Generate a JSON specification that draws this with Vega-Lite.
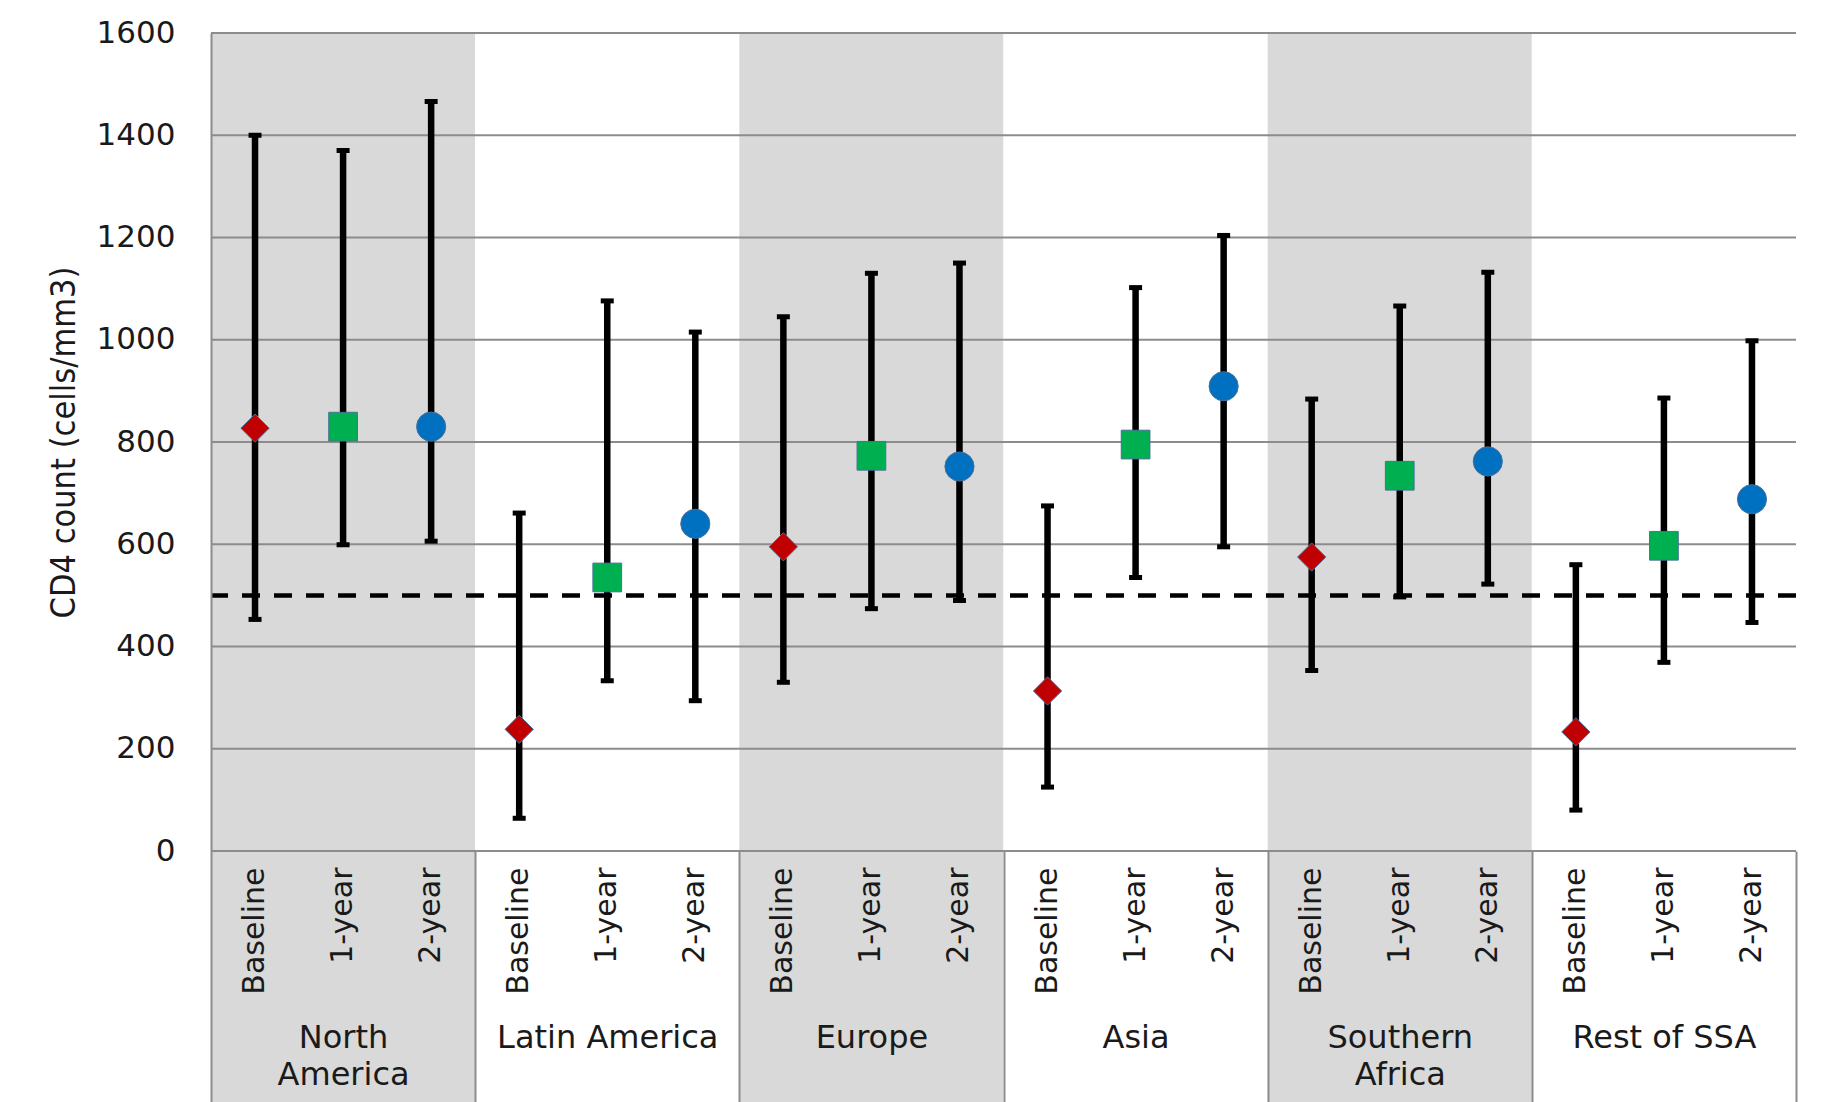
{
  "$schema": "https://vega.github.io/schema/vega-lite/v6.json",
  "width": 1585,
  "height": 818,
  "autosize": {"type": "none"},
  "padding": {"left": 211, "top": 33, "right": 33, "bottom": 251},
  "background": "#FFFFFF",
  "config": {"view": {"stroke": null}, "font": "DejaVu Sans"},
  "datasets": {
    "cd4": [
      {"region": "North America", "visit": "Baseline", "slot": "North America|Baseline", "cd4": 827, "low": 453, "high": 1400},
      {"region": "North America", "visit": "1-year", "slot": "North America|1-year", "cd4": 830, "low": 599, "high": 1370},
      {"region": "North America", "visit": "2-year", "slot": "North America|2-year", "cd4": 830, "low": 606, "high": 1466},
      {"region": "Latin America", "visit": "Baseline", "slot": "Latin America|Baseline", "cd4": 238, "low": 64, "high": 661},
      {"region": "Latin America", "visit": "1-year", "slot": "Latin America|1-year", "cd4": 535, "low": 333, "high": 1076},
      {"region": "Latin America", "visit": "2-year", "slot": "Latin America|2-year", "cd4": 640, "low": 294, "high": 1015},
      {"region": "Europe", "visit": "Baseline", "slot": "Europe|Baseline", "cd4": 595, "low": 330, "high": 1045},
      {"region": "Europe", "visit": "1-year", "slot": "Europe|1-year", "cd4": 773, "low": 474, "high": 1130},
      {"region": "Europe", "visit": "2-year", "slot": "Europe|2-year", "cd4": 752, "low": 490, "high": 1150},
      {"region": "Asia", "visit": "Baseline", "slot": "Asia|Baseline", "cd4": 313, "low": 125, "high": 675},
      {"region": "Asia", "visit": "1-year", "slot": "Asia|1-year", "cd4": 795, "low": 535, "high": 1102},
      {"region": "Asia", "visit": "2-year", "slot": "Asia|2-year", "cd4": 909, "low": 595, "high": 1204},
      {"region": "Southern Africa", "visit": "Baseline", "slot": "Southern Africa|Baseline", "cd4": 575, "low": 353, "high": 884},
      {"region": "Southern Africa", "visit": "1-year", "slot": "Southern Africa|1-year", "cd4": 734, "low": 497, "high": 1066},
      {"region": "Southern Africa", "visit": "2-year", "slot": "Southern Africa|2-year", "cd4": 762, "low": 522, "high": 1132},
      {"region": "Rest of SSA", "visit": "Baseline", "slot": "Rest of SSA|Baseline", "cd4": 233, "low": 80, "high": 560},
      {"region": "Rest of SSA", "visit": "1-year", "slot": "Rest of SSA|1-year", "cd4": 597, "low": 369, "high": 886},
      {"region": "Rest of SSA", "visit": "2-year", "slot": "Rest of SSA|2-year", "cd4": 688, "low": 447, "high": 998}
    ],
    "gridlines": [
      {"level": 0}, {"level": 200}, {"level": 400}, {"level": 600}, {"level": 800},
      {"level": 1000}, {"level": 1200}, {"level": 1400}, {"level": 1600}
    ],
    "threshold": [{"cd4": 500}]
  },
  "layer": [
    {
      "data": {"name": "cd4"},
      "transform": [{"aggregate": [{"op": "count", "as": "n"}], "groupby": ["region"]}],
      "mark": {"type": "rect", "clip": false},
      "encoding": {
        "x": {
          "field": "region",
          "type": "nominal",
          "sort": ["North America", "Latin America", "Europe", "Asia", "Southern Africa", "Rest of SSA"],
          "scale": {"paddingInner": 0, "paddingOuter": 0},
          "axis": {
            "orient": "bottom",
            "title": null,
            "domain": false,
            "ticks": true,
            "tickBand": "extent",
            "tickSize": 251,
            "tickColor": "#8C8C8C",
            "tickWidth": 2,
            "labelAngle": 0,
            "labelFont": "DejaVu Sans",
            "labelFontSize": 32,
            "labelColor": "#1A1A1A",
            "labelPadding": -80,
            "labelBaseline": "top",
            "labelLineHeight": 37,
            "labelLimit": 500,
            "labelExpr": "datum.value == 'North America' || datum.value == 'Southern Africa' ? split(datum.value, ' ') : datum.value",
            "zindex": 1
          }
        },
        "y": {"datum": 1600, "type": "quantitative", "scale": {"domain": [0, 1600], "nice": false}},
        "y2": {"datum": -520},
        "color": {
          "condition": {"test": "datum.region == 'North America' || datum.region == 'Europe' || datum.region == 'Southern Africa'", "value": "#D9D9D9"},
          "value": "#FFFFFF"
        }
      }
    },
    {
      "data": {"name": "gridlines"},
      "mark": {"type": "rule", "color": "#8C8C8C", "strokeWidth": 2},
      "encoding": {
        "y": {
          "field": "level",
          "type": "quantitative",
          "scale": {"domain": [0, 1600], "nice": false},
          "axis": {
            "values": [0, 200, 400, 600, 800, 1000, 1200, 1400, 1600],
            "format": "d",
            "grid": false,
            "ticks": false,
            "domain": true,
            "domainColor": "#8C8C8C",
            "domainWidth": 2,
            "labelFont": "DejaVu Sans",
            "labelFontSize": 31,
            "labelColor": "#1A1A1A",
            "labelPadding": 36,
            "title": "CD4 count (cells/mm3)",
            "titleFont": "DejaVu Sans Condensed",
            "titleFontSize": 34,
            "titleFontWeight": "normal",
            "titleColor": "#1A1A1A",
            "titlePadding": 15,
            "zindex": 1
          }
        }
      }
    },
    {
      "data": {"name": "threshold"},
      "mark": {"type": "rule", "color": "#000000", "strokeWidth": 4.5, "strokeDash": [18, 14]},
      "encoding": {
        "y": {"field": "cd4", "type": "quantitative", "scale": {"domain": [0, 1600], "nice": false}}
      }
    },
    {
      "data": {"name": "cd4"},
      "encoding": {
        "x": {
          "field": "slot",
          "type": "nominal",
          "sort": null,
          "scale": {"paddingInner": 0, "paddingOuter": 0},
          "axis": {
            "orient": "bottom",
            "title": null,
            "domain": false,
            "ticks": false,
            "labelAngle": 270,
            "labelFont": "DejaVu Sans",
            "labelFontSize": 30,
            "labelColor": "#1A1A1A",
            "labelPadding": 16,
            "labelLimit": 400,
            "labelExpr": "split(datum.value, '|')[1]",
            "zindex": 1
          }
        }
      },
      "layer": [
        {
          "mark": {"type": "rule", "color": "#000000", "strokeWidth": 6.5},
          "encoding": {
            "y": {"field": "low", "type": "quantitative", "scale": {"domain": [0, 1600], "nice": false}},
            "y2": {"field": "high"}
          }
        },
        {
          "mark": {"type": "tick", "color": "#000000", "size": 13, "thickness": 5, "opacity": 1},
          "encoding": {
            "y": {"field": "low", "type": "quantitative", "scale": {"domain": [0, 1600], "nice": false}}
          }
        },
        {
          "mark": {"type": "tick", "color": "#000000", "size": 13, "thickness": 5, "opacity": 1},
          "encoding": {
            "y": {"field": "high", "type": "quantitative", "scale": {"domain": [0, 1600], "nice": false}}
          }
        },
        {
          "mark": {"type": "point", "filled": true, "opacity": 1, "stroke": "#4A6F9B", "strokeWidth": 1},
          "encoding": {
            "y": {"field": "cd4", "type": "quantitative", "scale": {"domain": [0, 1600], "nice": false}},
            "shape": {
              "field": "visit",
              "type": "nominal",
              "scale": {"domain": ["Baseline", "1-year", "2-year"], "range": ["diamond", "square", "circle"]},
              "legend": null
            },
            "color": {
              "field": "visit",
              "type": "nominal",
              "scale": {"domain": ["Baseline", "1-year", "2-year"], "range": ["#C00000", "#00B050", "#0070C0"]},
              "legend": null
            },
            "size": {
              "field": "visit",
              "type": "ordinal",
              "scale": {"domain": ["Baseline", "1-year", "2-year"], "range": [800, 850, 900]},
              "legend": null
            }
          }
        }
      ]
    }
  ],
  "resolve": {"scale": {"x": "independent"}, "axis": {"x": "independent"}}
}
